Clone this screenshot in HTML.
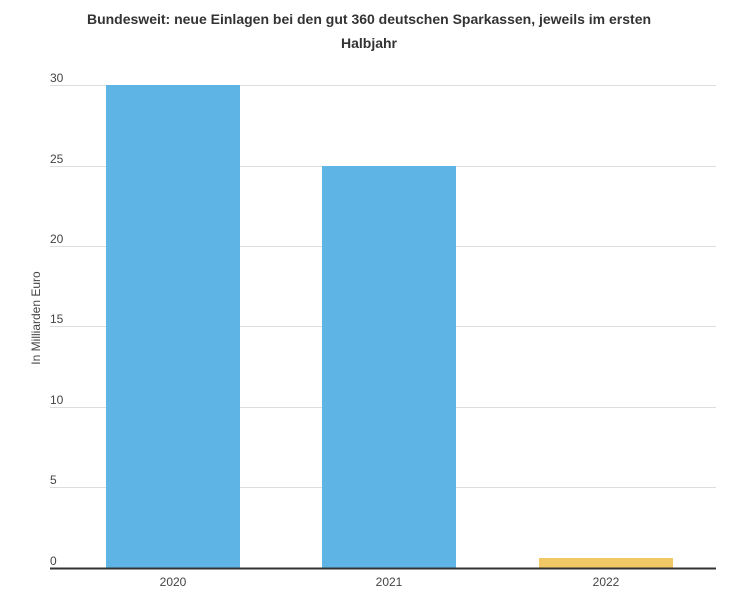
<!DOCTYPE html>
<html><head><meta charset="utf-8"><style>
body{margin:0;background:#fff;}
svg{display:block;font-family:"Liberation Sans",sans-serif;}
</style></head><body>
<svg width="747" height="602" xmlns="http://www.w3.org/2000/svg">
<rect width="747" height="602" fill="#fff"/>
<text x="369" y="24" text-anchor="middle" font-size="14" font-weight="bold" fill="#333">Bundesweit: neue Einlagen bei den gut 360 deutschen Sparkassen, jeweils im ersten</text>
<text x="369" y="48" text-anchor="middle" font-size="14" font-weight="bold" fill="#333">Halbjahr</text>
<g stroke="#ddd" stroke-width="1">
<line x1="50" x2="716" y1="85.5" y2="85.5"/>
<line x1="50" x2="716" y1="166.5" y2="166.5"/>
<line x1="50" x2="716" y1="246.5" y2="246.5"/>
<line x1="50" x2="716" y1="326.5" y2="326.5"/>
<line x1="50" x2="716" y1="407.5" y2="407.5"/>
<line x1="50" x2="716" y1="487.5" y2="487.5"/>
</g>
<g font-size="12" fill="#444">
<text x="50" y="82">30</text>
<text x="50" y="163">25</text>
<text x="50" y="243">20</text>
<text x="50" y="323">15</text>
<text x="50" y="404">10</text>
<text x="50" y="484">5</text>
<text x="50" y="565">0</text>
</g>
<text transform="translate(40,318) rotate(-90)" text-anchor="middle" font-size="12" fill="#444">In Milliarden Euro</text>
<rect x="106" y="85" width="134" height="483" fill="#5eb4e4"/>
<rect x="322" y="166" width="134" height="402" fill="#5eb4e4"/>
<rect x="539" y="558" width="134" height="10" fill="#f0c865"/>
<line x1="50" x2="716" y1="568.5" y2="568.5" stroke="#333" stroke-width="2"/>
<g font-size="12" fill="#444" text-anchor="middle">
<text x="173" y="586">2020</text>
<text x="389" y="586">2021</text>
<text x="606" y="586">2022</text>
</g>
</svg>
</body></html>
